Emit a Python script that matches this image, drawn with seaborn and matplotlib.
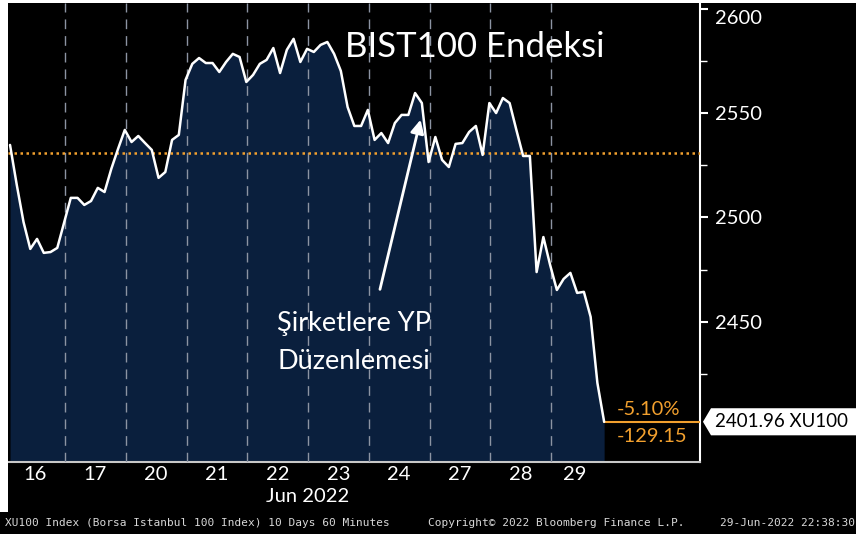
import numpy as np
import pandas as pd
import matplotlib
matplotlib.use('Agg')
import matplotlib.pyplot as plt
import seaborn as sns
from matplotlib.patches import Polygon, Rectangle
from matplotlib.transforms import ScaledTranslation, blended_transform_factory

# XU100 hourly closes, 16-29 Jun 2022
days = ['16', '17', '20', '21', '22', '23', '24', '27', '28', '29']
bars_per_day = [9, 9, 9, 9, 9, 9, 9, 9, 9, 8]
close = [
    2534.8, 2515.6, 2497.8, 2484.9, 2489.7, 2483.0, 2483.4, 2485.4, 2497.4,
    2509.4, 2509.4, 2506.0, 2507.9, 2514.2, 2512.2, 2523.3, 2532.9, 2542.0,
    2536.2, 2539.1, 2535.7, 2532.4, 2519.0, 2521.8, 2537.2, 2539.6, 2566.0,
    2573.7, 2576.5, 2574.1, 2574.1, 2569.8, 2574.6, 2578.5, 2577.0, 2565.0,
    2568.4, 2573.7, 2575.6, 2581.3, 2569.3, 2580.4, 2585.7, 2574.6, 2580.9,
    2579.4, 2582.8, 2584.2, 2578.5, 2570.3, 2553.0, 2543.9, 2543.9, 2551.6,
    2537.2, 2540.5, 2535.7, 2545.3, 2549.2, 2549.2, 2559.7, 2554.9, 2526.6,
    2538.6, 2527.6, 2524.2, 2535.3, 2535.7, 2541.0, 2543.9, 2530.0, 2554.9,
    2550.1, 2557.3, 2554.9, 2542.0, 2529.5, 2529.5, 2473.8, 2490.6, 2477.2,
    2465.2, 2470.5, 2473.4, 2463.8, 2464.3, 2452.3, 2420.6, 2401.96,
]
prev_close = 2531.11
ticker = 'XU100'
y_major = [2450, 2500, 2550, 2600]
y_minor = [2425, 2475, 2525, 2575]

ORANGE = '#f2a02e'
NAVY = '#0a1f3d'

sns.set_style('dark')
plt.rcParams['font.family'] = ['Lato', 'DejaVu Sans']

df = pd.DataFrame({'bar': np.arange(len(close)), 'close': close})
ylo, yhi = 2382.9, 2602.9

fig = plt.figure(figsize=(8.56, 5.37), dpi=100, facecolor='black')
ax = fig.add_axes([8 / 856, 1 - 461.5 / 537, 692 / 856, 458.5 / 537])
ax.set_facecolor('black')
ax.grid(False)

ax.fill_between(df['bar'], df['close'], ylo, color=NAVY, lw=0, zorder=1)
sns.lineplot(data=df, x='bar', y='close', ax=ax, color='white', lw=1.8, zorder=5)

# day separators
ends = np.cumsum(bars_per_day) - 0.85
for b in ends[:-1]:
    ax.axvline(b, color='#8c94a3', lw=1, ls=(0, (7, 5)), zorder=3)
centers = ends - 4.5

# previous close + last price marker
ax.axhline(prev_close, color=ORANGE, lw=1.8, ls=(0, (1, 1.4)), zorder=4)
last = close[-1]
ax.plot([df['bar'].iloc[-1], 200], [last, last], color=ORANGE, lw=1.5, zorder=4)
chg = last - prev_close
pct = chg / prev_close * 100
ax.text(89.9, last + 6, f'{pct:.2f}%', color=ORANGE, fontsize=14.5, va='center', ha='left')
ax.text(89.9, last - 7.3, f'{chg:.2f}', color=ORANGE, fontsize=14.5, va='center', ha='left')

ax.set_xlim(-0.3, 102.2)
ax.set_ylim(ylo, yhi)

ax.yaxis.tick_right()
ax.set_yticks(y_major)
ax.set_yticks(y_minor, minor=True)
ax.tick_params(axis='y', which='major', colors='white', length=6, width=1.5,
               direction='out', labelsize=14.5, pad=5, right=True, left=False)
ax.tick_params(axis='y', which='minor', colors='white', length=5, width=1,
               direction='out', right=True, left=False)
top_lab = ax.get_yticklabels()[-1]
top_lab.set_transform(top_lab.get_transform() + ScaledTranslation(0, -6 / 72, fig.dpi_scale_trans))

ax.set_xticks(centers, days)
ax.tick_params(axis='x', length=0, labelsize=14.5, colors='white', pad=3)
ax.set_xlabel('')
ax.set_ylabel('')

for side in ['top', 'left']:
    ax.spines[side].set_visible(False)
ax.spines['right'].set_color('white')
ax.spines['right'].set_linewidth(1.5)
ax.spines['bottom'].set_color('#c8c8c8')
ax.spines['bottom'].set_linewidth(1.5)

# last value tag on the right
tr = blended_transform_factory(ax.transAxes, ax.transData)
tag = Polygon([(1.0043, last), (1.0159, last + 6.5), (1.3, last + 6.5),
               (1.3, last - 6.5), (1.0159, last - 6.5)],
              closed=True, facecolor='white', edgecolor='none', transform=tr, clip_on=False, zorder=6)
ax.add_patch(tag)
ax.text(1.021, last, f'{last:.2f} {ticker}', transform=tr, color='black', fontsize=13.5,
        va='center', ha='left', clip_on=False, zorder=7)

# annotations
ax.text(49.6, 2581.8, 'BIST100 Endeksi', fontsize=25, color='white', va='center', ha='left', zorder=6)
ax.text(39.6, 2439.8, 'Şirketlere YP\nDüzenlemesi', fontsize=19.5, color='white',
        va='center', ha='left', linespacing=1.65, zorder=6)
ax.annotate('', xy=(60.9, 2548.2), xytext=(54.7, 2464.2),
            arrowprops=dict(arrowstyle='-|>', color='white', lw=2, mutation_scale=20), zorder=6)

fig.text(308 / 856, 1 - 497 / 537, 'Jun 2022', color='white', fontsize=14.5, ha='center', va='center')

mono = ['DejaVu Sans Mono']
fig.text(5 / 856, 1 - 523 / 537, 'XU100 Index (Borsa Istanbul 100 Index) 10 Days 60 Minutes',
         color='#d8d8d8', fontsize=8, family=mono, va='center', ha='left')
fig.text(428 / 856, 1 - 523 / 537, 'Copyright© 2022 Bloomberg Finance L.P.',
         color='#d8d8d8', fontsize=8, family=mono, va='center', ha='left')
fig.text(720 / 856, 1 - 523 / 537, '29-Jun-2022 22:38:30',
         color='#d8d8d8', fontsize=8, family=mono, va='center', ha='left')

# screenshot margins
fig.add_artist(Rectangle((0, 1 - 3 / 537), 1, 3 / 537, transform=fig.transFigure, color='white', lw=0))
fig.add_artist(Rectangle((0, 1 - 512 / 537), 8 / 856, 509 / 537, transform=fig.transFigure, color='white', lw=0))
fig.add_artist(Rectangle((0, 0), 1, 3 / 537, transform=fig.transFigure, color='white', lw=0))

fig.savefig('out.png', dpi=100, facecolor='black')
